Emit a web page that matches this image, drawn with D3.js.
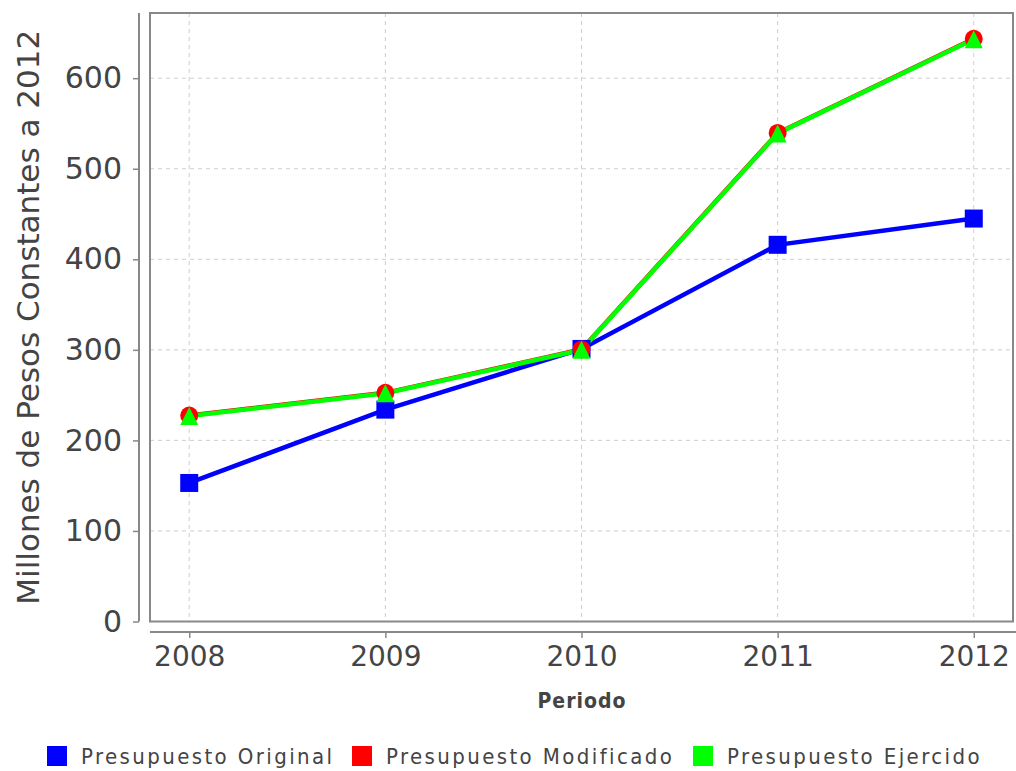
<!DOCTYPE html>
<html>
<head>
<meta charset="utf-8">
<script src="https://cdn.jsdelivr.net/npm/d3@7"></script>
<style>
  body { margin: 0; background: #fff; }
  text { font-family: "DejaVu Sans", sans-serif; fill: #444; }
</style>
</head>
<body>
<div class="main"></div>
<script>
const w = 1016, h = 771;

// data
const years = ['2008', '2009', '2010', '2011', '2012'];
const original = [153, 234, 301, 416, 445];
const modificado = [227.5, 252.5, 300.5, 539.5, 643.5];
const ejercido = [227, 252, 300, 539, 643];
const yTicks = [0, 100, 200, 300, 400, 500, 600];
const seriesNames = ['Presupuesto Original', 'Presupuesto Modificado', 'Presupuesto Ejercido'];
const seriesColors = ['#0000ff', '#ff0000', '#00ff00'];

const plot = { left: 150, right: 1013, top: 13, bottom: 621.5 };

const svg = d3.select('.main')
            .append('svg')
            .attr('width', w)
            .attr('height', h)

const x = d3.scalePoint()
            .domain(years)
            .range([plot.left, plot.right])
            .padding(0.2)

const y = d3.scaleLinear()
            .domain([0, 672])
            .range([plot.bottom, plot.top])

// gridlines
const grid = svg.append('g')
            .attr('stroke', '#cfcfcf')
            .attr('stroke-width', 1)
            .attr('stroke-dasharray', '4,4')
grid.selectAll('.hgrid')
    .data(yTicks)
    .enter()
    .append('line')
    .attr('x1', plot.left)
    .attr('x2', plot.right)
    .attr('y1', d => y(d))
    .attr('y2', d => y(d))
grid.selectAll('.vgrid')
    .data(years)
    .enter()
    .append('line')
    .attr('x1', d => x(d))
    .attr('x2', d => x(d))
    .attr('y1', plot.top)
    .attr('y2', plot.bottom)

// plot outline
svg.append('rect')
    .attr('x', plot.left)
    .attr('y', plot.top)
    .attr('width', plot.right - plot.left)
    .attr('height', plot.bottom - plot.top)
    .attr('fill', 'none')
    .attr('stroke', '#888')
    .attr('stroke-width', 2)

// y axis, offset from plot
const yAxis = svg.append('g')
            .attr('transform', 'translate(139, 0)')
            .call(d3.axisLeft(y).tickValues(yTicks).tickSize(6).tickPadding(11))
yAxis.select('.domain').attr('stroke', '#888').attr('stroke-width', 2)
    .attr('d', `M0,${plot.top}V${plot.bottom}`)
yAxis.selectAll('line').attr('stroke', '#888').attr('stroke-width', 1.5)
yAxis.selectAll('text')
    .style('font-family', '"DejaVu Sans", sans-serif')
    .style('font-size', '30px')
    .attr('fill', '#444')

// x axis, offset from plot
const xAxis = svg.append('g')
            .attr('transform', 'translate(0, 632)')
            .call(d3.axisBottom(x).tickSize(6).tickPadding(8))
xAxis.select('.domain').attr('stroke', '#888').attr('stroke-width', 2)
    .attr('d', `M${plot.left},0H${w}`)
xAxis.selectAll('line').attr('stroke', '#888').attr('stroke-width', 1.5)
xAxis.selectAll('text')
    .style('font-family', '"DejaVu Sans", sans-serif')
    .style('font-size', '28px')
    .attr('fill', '#444')

// axis titles
svg.append('text')
    .attr('transform', `translate(39, ${(plot.top + plot.bottom) / 2}) rotate(-90)`)
    .attr('text-anchor', 'middle')
    .style('font-size', '31px')
    .text('Millones de Pesos Constantes a 2012')

svg.append('text')
    .attr('x', 582)
    .attr('y', 708)
    .attr('text-anchor', 'middle')
    .style('font-family', '"DejaVu Sans Condensed", "DejaVu Sans", sans-serif')
    .style('font-size', '21px')
    .style('font-weight', '600')
    .style('letter-spacing', '1px')
    .text('Periodo')

// lines
const line = d3.line()
            .x((d, i) => x(years[i]))
            .y(d => y(d))

const allSeries = [original, modificado, ejercido];
allSeries.forEach((s, k) => {
    svg.append('path')
        .datum(s)
        .attr('d', line)
        .attr('fill', 'none')
        .attr('stroke', seriesColors[k])
        .attr('stroke-width', 4.5)
})

// markers
svg.selectAll('.sq')
    .data(original)
    .enter()
    .append('rect')
    .attr('x', (d, i) => x(years[i]) - 9)
    .attr('y', d => y(d) - 9)
    .attr('width', 18)
    .attr('height', 18)
    .attr('fill', seriesColors[0])

svg.selectAll('.ci')
    .data(modificado)
    .enter()
    .append('circle')
    .attr('cx', (d, i) => x(years[i]))
    .attr('cy', d => y(d))
    .attr('r', 9)
    .attr('fill', seriesColors[1])

svg.selectAll('.tri')
    .data(ejercido)
    .enter()
    .append('path')
    .attr('transform', (d, i) => `translate(${x(years[i])}, ${y(d)})`)
    .attr('d', 'M0,-9L9,9L-9,9Z')
    .attr('fill', seriesColors[2])

// legend
const legendX = [47, 352, 693];
const legend = svg.append('g')
legend.selectAll('rect')
    .data(seriesNames)
    .enter()
    .append('rect')
    .attr('x', (d, i) => legendX[i])
    .attr('y', 746)
    .attr('width', 20)
    .attr('height', 20)
    .attr('fill', (d, i) => seriesColors[i])
legend.selectAll('text')
    .data(seriesNames)
    .enter()
    .append('text')
    .attr('x', (d, i) => legendX[i] + 34)
    .attr('y', 764)
    .style('font-family', '"DejaVu Sans Condensed", "DejaVu Sans", sans-serif')
    .style('font-size', '22px')
    .style('letter-spacing', '2.4px')
    .text(d => d)
</script>
</body>
</html>
